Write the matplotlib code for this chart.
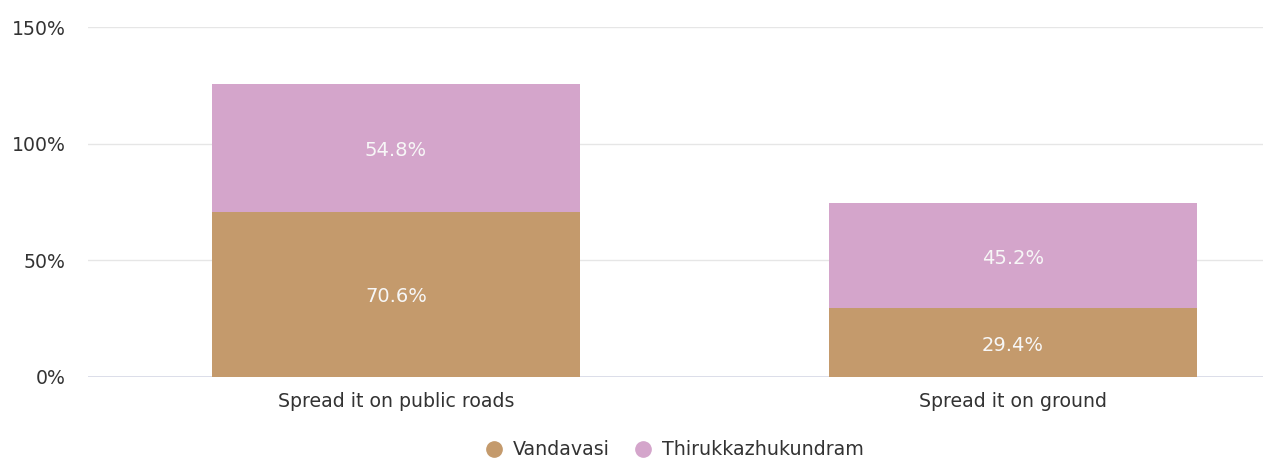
import matplotlib.pyplot as plt
from matplotlib.lines import Line2D

categories = ["Spread it on public roads", "Spread it on ground"]
vandavasi = [70.6, 29.4]
thirukkazhukundram = [54.8, 45.2]
series_names = ["Vandavasi", "Thirukkazhukundram"]
colors = ["#C49A6C", "#D4A5CB"]
yticks = [0, 50, 100, 150]

fig = plt.figure(figsize=(12.63, 4.58), dpi=100)
ax = fig.add_axes([0.0697, 0.1769, 0.9303, 0.764])

x = range(len(categories))
width = 0.596
ax.bar(x, vandavasi, width=width, color=colors[0], zorder=3)
ax.bar(x, thirukkazhukundram, width=width, bottom=vandavasi, color=colors[1], zorder=3)

for i in x:
    ax.text(i, vandavasi[i] / 2 - 1, f"{vandavasi[i]:.1f}%", ha="center", va="center",
            color="#f7f7f7", fontsize=14, zorder=4)
    ax.text(i, vandavasi[i] + thirukkazhukundram[i] / 2 - 1, f"{thirukkazhukundram[i]:.1f}%",
            ha="center", va="center", color="#f7f7f7", fontsize=14, zorder=4)

ax.set_xlim(-0.499, 1.405)
ax.set_ylim(0, 150)
ax.set_yticks(yticks)
ax.set_yticklabels([f"{t}%" for t in yticks])
ax.set_xticks(list(x))
ax.set_xticklabels(categories)
ax.tick_params(axis="both", length=0, labelsize=13.6, colors="#333333")
ax.tick_params(axis="y", pad=16)
ax.tick_params(axis="x", pad=11)

ax.grid(axis="y", color="#e6e6e6", linewidth=1, zorder=0)
ax.axhline(0, color="#d6d9e6", linewidth=1.2, zorder=2)
for s in ax.spines.values():
    s.set_visible(False)

handles = [Line2D([], [], marker="o", linestyle="", markersize=11, color=c) for c in colors]
fig.legend(handles, series_names, loc="center", bbox_to_anchor=(0.530, 0.018), ncol=2,
           frameon=False, fontsize=13.7, handletextpad=0.0, columnspacing=0.75,
           labelcolor="#333333")

fig.savefig("out.png", dpi=100)
